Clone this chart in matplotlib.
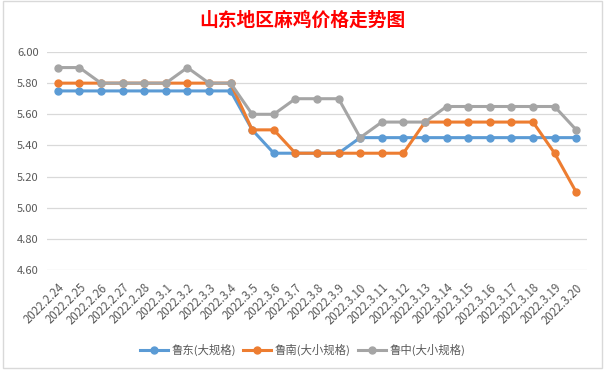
import matplotlib
matplotlib.use("Agg")
import matplotlib.pyplot as plt
from matplotlib.lines import Line2D
from matplotlib.patches import Rectangle

plt.rcParams['font.family'] = ['Noto Sans CJK SC', 'DejaVu Sans']

dates = ["2022.2.24", "2022.2.25", "2022.2.26", "2022.2.27", "2022.2.28",
         "2022.3.1", "2022.3.2", "2022.3.3", "2022.3.4", "2022.3.5", "2022.3.6",
         "2022.3.7", "2022.3.8", "2022.3.9", "2022.3.10", "2022.3.11", "2022.3.12",
         "2022.3.13", "2022.3.14", "2022.3.15", "2022.3.16", "2022.3.17", "2022.3.18",
         "2022.3.19", "2022.3.20"]
ludong = [5.75, 5.75, 5.75, 5.75, 5.75, 5.75, 5.75, 5.75, 5.75, 5.50, 5.35,
          5.35, 5.35, 5.35, 5.45, 5.45, 5.45, 5.45, 5.45, 5.45, 5.45, 5.45, 5.45,
          5.45, 5.45]
lunan = [5.80, 5.80, 5.80, 5.80, 5.80, 5.80, 5.80, 5.80, 5.80, 5.50, 5.50,
         5.35, 5.35, 5.35, 5.35, 5.35, 5.35, 5.55, 5.55, 5.55, 5.55, 5.55, 5.55,
         5.35, 5.10]
luzhong = [5.90, 5.90, 5.80, 5.80, 5.80, 5.80, 5.90, 5.80, 5.80, 5.60, 5.60,
           5.70, 5.70, 5.70, 5.45, 5.55, 5.55, 5.55, 5.65, 5.65, 5.65, 5.65, 5.65,
           5.65, 5.50]
series_names = ["鲁东(大规格)", "鲁南(大小规格)", "鲁中(大小规格)"]
colors = ["#5B9BD5", "#ED7D31", "#A5A5A5"]
yticks = [4.60, 4.80, 5.00, 5.20, 5.40, 5.60, 5.80, 6.00]

W, H = 605, 371
fig = plt.figure(figsize=(W / 100, H / 100), dpi=100)
fig.patch.set_facecolor("white")

# chart border
fig.add_artist(Rectangle((3 / W, 1 - 368 / H), 599 / W, 367 / H, transform=fig.transFigure,
                         fill=False, edgecolor="#D9D9D9", linewidth=1.0))

left, right = 47, 587
top, bottom = 52, 270
ax = fig.add_axes([left / W, 1 - bottom / H, (right - left) / W, (bottom - top) / H])

x = list(range(len(dates)))
for vals, c in zip([ludong, lunan, luzhong], colors):
    ax.plot(x, vals, color=c, linewidth=2.2, marker="o", markersize=5, zorder=3)

ax.set_xlim(-0.5, len(dates) - 0.5)
ax.set_ylim(4.60, 6.00)
ax.set_yticks(yticks)
ax.set_yticklabels([f"{v:.2f}" for v in yticks], fontsize=8, color="#595959")
ax.set_xticks(x)
ax.set_xticklabels(dates, rotation=45, ha="right", rotation_mode="anchor",
                   fontsize=8.3, color="#595959")
ax.tick_params(axis="both", length=0)
ax.tick_params(axis="y", pad=6)
ax.tick_params(axis="x", pad=8)
ax.grid(axis="y", color="#D9D9D9", linewidth=0.9)
ax.set_axisbelow(True)
for s in ax.spines.values():
    s.set_visible(False)

fig.text(0.5, 1 - 20 / H, "山东地区麻鸡价格走势图", ha="center", va="center",
         fontsize=13.5, fontweight="bold", color="#FF0000")

handles = [Line2D([0], [0], color=c, linewidth=2.2, marker="o", markersize=5) for c in colors]
fig.legend(handles, series_names, loc="center", bbox_to_anchor=(0.5, 1 - 350 / H),
           ncol=3, frameon=False, fontsize=8.2, handlelength=2.5, handletextpad=0.3,
           columnspacing=0.6, labelcolor="#595959")

fig.savefig("out.png", dpi=100, facecolor="white")
